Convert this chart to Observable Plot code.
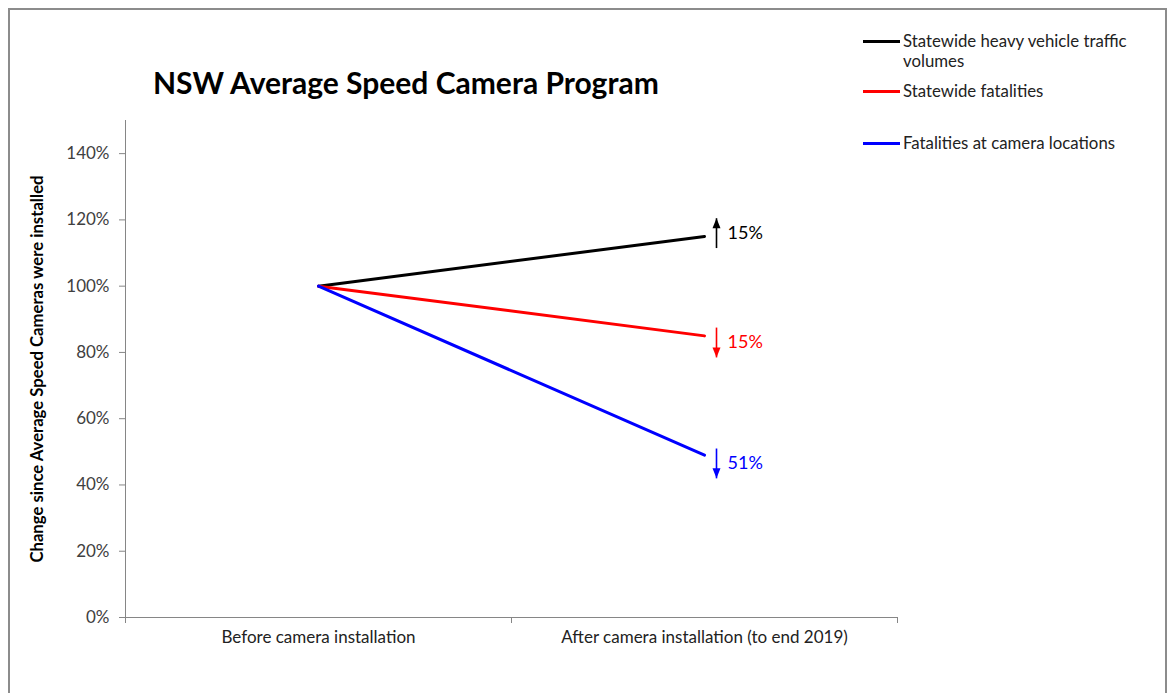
<!DOCTYPE html>
<html><head><meta charset="utf-8">
<script src="https://cdn.jsdelivr.net/npm/d3@7"></script>
<script src="https://cdn.jsdelivr.net/npm/@observablehq/plot@0.6"></script>
<style>
body{margin:0;background:#fff;}
#wrap{position:relative;width:1168px;height:693px;overflow:hidden;font-family:Lato, sans-serif;}
#frame{position:absolute;left:8px;top:8px;width:1159px;height:720px;border:2px solid #8c8c8c;box-sizing:border-box;}
#title{position:absolute;left:153px;top:64px;font-weight:bold;font-size:30px;color:#000;white-space:nowrap;}
#chart{position:absolute;left:0;top:0;}
.leg{position:absolute;left:863px;display:flex;align-items:flex-start;font-size:16.8px;color:#222;line-height:20px;}
.sw{width:37px;height:3px;margin-top:9px;flex:none;}
.lt{width:240px;margin-left:3px;}
</style></head>
<body>
<div id="wrap">
  <div id="frame"></div>
  <div id="chart"></div>
  <div id="title"></div>
  <div id="legend"></div>
</div>
<script>
const title = "NSW Average Speed Camera Program";
const yLabel = "Change since Average Speed Cameras were installed";
const categories = ["Before camera installation", "After camera installation (to end 2019)"];
const series = ["Statewide heavy vehicle traffic volumes", "Statewide fatalities", "Fatalities at camera locations"];
const colors = ["#000000", "#ff0000", "#0000ff"];
const before = [100, 100, 100];
const after = [115, 85, 49];
const changeLabels = ["15%", "15%", "51%"];
const arrowFrom = [111.5, 87.5, 51];
const arrowTo = [120.5, 78.5, 42];
const yTicks = [0, 20, 40, 60, 80, 100, 120, 140];

document.getElementById("title").textContent = title;

// legend
const legendTops = [31, 81, 133];
const legend = document.getElementById("legend");
series.forEach((s, i) => {
  const d = document.createElement("div");
  d.className = "leg";
  d.style.top = legendTops[i] + "px";
  d.innerHTML = `<div class="sw" style="background:${colors[i]}"></div><div class="lt">${s}</div>`;
  legend.appendChild(d);
});

const rows = [];
series.forEach((s, i) => {
  rows.push({series: s, i, x: 0 + 0.5, v: before[i]});
  rows.push({series: s, i, x: 1 + 0.5, v: after[i]});
});
const arrows = series.map((s, i) => ({
  series: s, i, x: categories.length - 0.5,
  y1: arrowFrom[i], y2: arrowTo[i], mid: (arrowFrom[i] + arrowTo[i]) / 2,
  up: arrowTo[i] > arrowFrom[i], label: changeLabels[i]
}));

const headSymbol = {
  draw(ctx) {
    ctx.moveTo(0, 0);
    ctx.lineTo(-4, 10);
    ctx.lineTo(4, 10);
    ctx.closePath();
  }
};

const plot = Plot.plot({
  width: 1168, height: 693,
  marginLeft: 125, marginRight: 271, marginTop: 120, marginBottom: 76,
  x: {type: "linear", domain: [0, categories.length]},
  y: {domain: [0, 150]},
  color: {domain: series, range: colors},
  style: {fontFamily: "Lato, sans-serif", fontSize: "17px", background: "transparent", color: "#404040"},
  marks: [
    Plot.ruleX([0], {stroke: "#868686"}),
    Plot.ruleY([0], {stroke: "#868686"}),
    Plot.axisY({ticks: yTicks, tickSize: 6, tickPadding: 10, tickFormat: d => d + "%", stroke: "#868686", fill: "#404040", label: null}),
    Plot.axisX({ticks: d3.range(categories.length + 1), tickSize: 6, tickFormat: () => "", stroke: "#868686", label: null}),
    Plot.axisX({ticks: categories.map((c, i) => i + 0.5), tickSize: 0, tickPadding: 13, tickFormat: d => categories[Math.floor(d)], fill: "#222", label: null}),
    Plot.text([yLabel], {text: d => d, frameAnchor: "left", textAnchor: "middle", rotate: -90, dx: -88, fontWeight: "bold", fontSize: 16.7, fill: "#000"}),
    Plot.line(rows, {x: "x", y: "v", z: "series", stroke: "series", strokeWidth: 3}),
    Plot.link(arrows, {x1: "x", x2: "x", y1: "y1", y2: "y2", stroke: "series", strokeWidth: 1.6, dx: 12}),
    Plot.dot(arrows, {x: "x", y: "y2", symbol: headSymbol, r: 4, fill: "series", stroke: "none", rotate: d => d.up ? 0 : 180, dx: 12}),
    Plot.text(arrows, {x: "x", y: "mid", text: "label", fill: "series", textAnchor: "start", dx: 23, fontSize: 18})
  ]
});
document.getElementById("chart").appendChild(plot);
</script>
</body></html>
